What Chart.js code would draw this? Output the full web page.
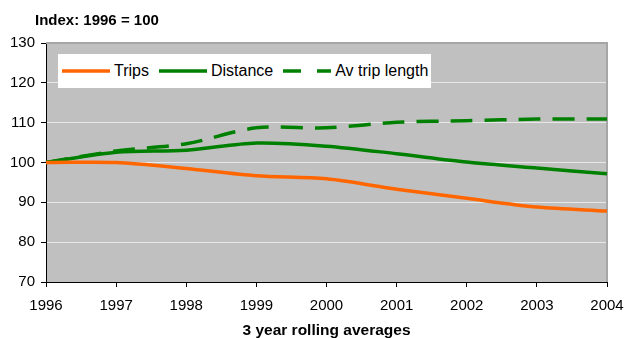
<!DOCTYPE html>
<html>
<head>
<meta charset="utf-8">
<script src="https://cdn.jsdelivr.net/npm/chart.js@4"></script>
<style>
  html, body { margin: 0; padding: 0; background: #fff; }
  #wrap { position: relative; width: 625px; height: 338px; }
  #legend { position: absolute; left: 58px; top: 54px; width: 373px; height: 34px; background: #fff;
            display: flex; align-items: center; padding-left: 4px; box-sizing: border-box; white-space: nowrap;
            font-family: "Liberation Sans", Arial, sans-serif; font-size: 16px; color: #000; }
  .item { display: flex; align-items: center; margin-right: 10px; flex-shrink: 0; }
  .item svg { margin-right: 4px; display: block; flex-shrink: 0; }
</style>
</head>
<body>
<div id="wrap">
  <canvas id="c" width="625" height="338"></canvas>
  <div id="legend"></div>
</div>
<script>
const years = ['1996', '1997', '1998', '1999', '2000', '2001', '2002', '2003', '2004'];
const trips = [100, 100, 98.5, 96.7, 95.9, 93.3, 91.0, 88.8, 87.8];
const distance = [100, 102.6, 103.1, 104.9, 104.1, 102.2, 100.1, 98.6, 97.2];
const avTripLength = [100, 102.9, 104.7, 108.7, 108.7, 110.1, 110.5, 110.9, 110.9];
const seriesNames = ['Trips', 'Distance', 'Av trip length'];
const yMin = 70;
const yMax = 130;
const yStep = 10;
const chartTitle = 'Index: 1996 = 100';
const xTitle = '3 year rolling averages';

const colors = ['#FF6600', '#008000', '#008000'];
const dashes = [[], [], [22, 12]];
const seriesData = [trips, distance, avTripLength];

const FONT = '"Liberation Sans", Arial, sans-serif';

const plotFrame = {
  id: 'plotFrame',
  afterLayout(chart) {
    // shift the chart title so it starts just left of the y tick labels
    if (chart.titleBlock) {
      chart.titleBlock.left = 35;
    }
  },
  beforeDraw(chart) {
    const {ctx, chartArea: a} = chart;
    ctx.save();
    ctx.fillStyle = '#C0C0C0';
    ctx.fillRect(a.left, a.top, a.right - a.left, a.bottom - a.top);
    ctx.restore();
  },
  beforeDatasetsDraw(chart) {
    const {ctx, chartArea: a} = chart;
    ctx.save();
    ctx.strokeStyle = '#A6A6A6';
    ctx.lineWidth = 2;
    ctx.beginPath();
    ctx.moveTo(a.left, a.top);
    ctx.lineTo(a.right, a.top);
    ctx.lineTo(a.right, a.bottom);
    ctx.stroke();
    ctx.restore();
  }
};

const chart = new Chart(document.getElementById('c'), {
  type: 'line',
  data: {
    labels: years,
    datasets: seriesNames.map((name, i) => ({
      label: name,
      data: seriesData[i],
      borderColor: colors[i],
      backgroundColor: colors[i],
      borderWidth: 3.5,
      borderDash: dashes[i],
      pointRadius: 0,
      tension: 0.3,
      fill: false
    }))
  },
  options: {
    responsive: false,
    animation: false,
    devicePixelRatio: 1,
    layout: { padding: { left: 0, right: 18, top: 0, bottom: 0 } },
    plugins: {
      legend: { display: false },
      tooltip: { enabled: false },
      title: {
        display: true,
        text: chartTitle,
        align: 'start',
        color: '#000',
        font: { family: FONT, size: 15, weight: 'bold' },
        padding: { top: 12, bottom: 13 }
      }
    },
    scales: {
      x: {
        type: 'category',
        offset: false,
        afterFit(scale) { scale.height = 56; },
        grid: { drawOnChartArea: false, drawTicks: true, tickLength: 5, tickColor: '#000' },
        border: { display: true, color: '#000', width: 1 },
        ticks: { color: '#000', font: { family: FONT, size: 15, lineHeight: 2.4 }, padding: 1, maxRotation: 0, autoSkip: false },
        title: { display: true, text: xTitle, color: '#000', font: { family: FONT, size: 15.5, weight: 'bold', lineHeight: 1.0 }, padding: { top: 0, bottom: 0 } }
      },
      y: {
        min: yMin,
        max: yMax,
        afterFit(scale) { scale.width = 46; },
        grid: {
          color: (c) => (c.tick && (c.tick.value === yMax || c.tick.value === yMin)) ? 'rgba(0,0,0,0)' : '#E8E8E8',
          lineWidth: 1,
          drawTicks: true,
          tickLength: 5,
          tickColor: '#000'
        },
        border: { display: true, color: '#000', width: 1 },
        ticks: { stepSize: yStep, color: '#000', font: { family: FONT, size: 15 }, padding: 6 }
      }
    }
  },
  plugins: [plotFrame]
});

// Legend built from the chart's datasets
const legend = document.getElementById('legend');
chart.data.datasets.forEach(ds => {
  const item = document.createElement('div');
  item.className = 'item';
  const dash = ds.borderDash && ds.borderDash.length ? 'stroke-dasharray="18 16"' : '';
  item.innerHTML = '<svg width="48" height="8"><line x1="0" y1="4" x2="48" y2="4" stroke="' + ds.borderColor +
    '" stroke-width="3.5" ' + dash + '/></svg>';
  const span = document.createElement('span');
  span.textContent = ds.label;
  item.appendChild(span);
  legend.appendChild(item);
});
</script>
</body>
</html>
